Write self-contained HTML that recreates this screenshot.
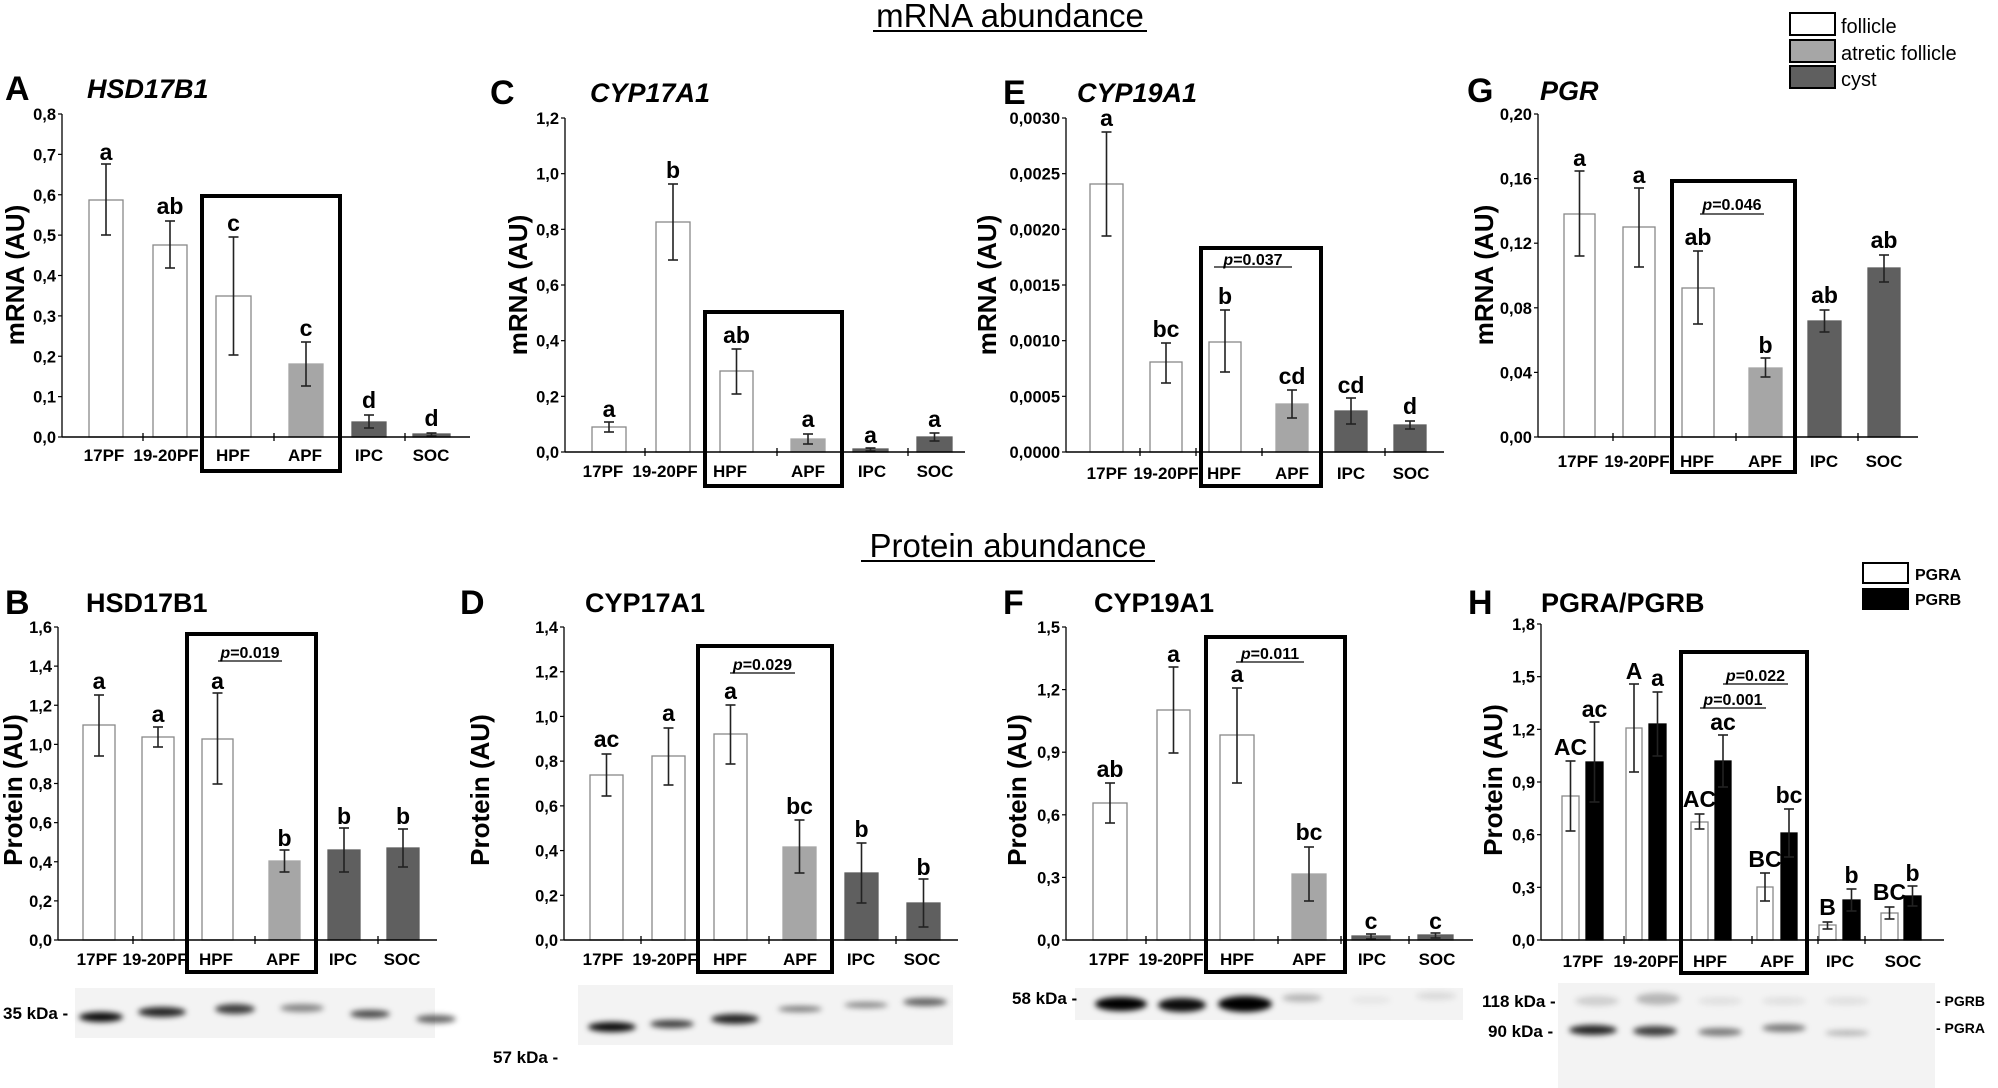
<!DOCTYPE html>
<html><head><meta charset="utf-8">
<style>
html,body{margin:0;padding:0;background:#fff;}
svg{display:block;font-family:"Liberation Sans",Arial,sans-serif;}
</style></head>
<body>
<svg id="s" width="1998" height="1088" viewBox="0 0 1998 1088" xmlns="http://www.w3.org/2000/svg">
<defs>
<filter id="bl" x="-20%" y="-100%" width="140%" height="300%"><feGaussianBlur stdDeviation="3"/></filter>
</defs>
<text x="1010" y="27" font-size="33" text-anchor="middle">mRNA abundance</text>
<line x1="873" y1="31" x2="1147" y2="31" stroke="#000" stroke-width="2"/>
<text x="1008" y="557" font-size="33" text-anchor="middle">Protein abundance</text>
<line x1="861" y1="561" x2="1155" y2="561" stroke="#000" stroke-width="2"/>
<rect x="1790" y="13" width="45" height="22" fill="#fff" stroke="#000" stroke-width="2"/>
<rect x="1790" y="40" width="45" height="22" fill="#a6a6a6" stroke="#000" stroke-width="2"/>
<rect x="1790" y="66" width="45" height="22" fill="#5f5f5f" stroke="#000" stroke-width="2"/>
<text x="1841" y="33" font-size="20">follicle</text>
<text x="1841" y="60" font-size="20">atretic follicle</text>
<text x="1841" y="86" font-size="20">cyst</text>
<rect x="1863" y="563" width="45" height="20" fill="#fff" stroke="#000" stroke-width="2"/>
<rect x="1863" y="589" width="45" height="20" fill="#000" stroke="#000" stroke-width="2"/>
<text x="1915" y="580" font-size="16" font-weight="bold">PGRA</text>
<text x="1915" y="605" font-size="16" font-weight="bold">PGRB</text>
<g id="g"></g>
</svg>
<script>
var g=document.getElementById('g'),NS='http://www.w3.org/2000/svg';
function el(t,a,txt){var e=document.createElementNS(NS,t);for(var k in a)e.setAttribute(k,a[k]);if(txt!==undefined)e.textContent=txt;g.appendChild(e);return e;}
var W='#fff',L='#a6a6a6',D='#5f5f5f',K='#000';
function panel(P){
 var n=P.ticks.length;
 for(var i=0;i<n;i++){var y=P.top+(P.zero-P.top)*i/(n-1);
  el('line',{x1:P.ax-4,y1:y,x2:P.ax,y2:y,stroke:'#000','stroke-width':1.2});
  el('text',{x:P.ax-6,y:y+6,'font-size':16.5,'font-weight':'bold','text-anchor':'end'},P.ticks[i]);}
 el('line',{x1:P.ax,y1:P.top,x2:P.ax,y2:P.zero,stroke:'#000','stroke-width':1.3});
 P.xt.forEach(function(x){el('line',{x1:x,y1:P.zero-4,x2:x,y2:P.zero+4,stroke:'#000','stroke-width':1.3});});
 P.bars.forEach(function(b){
  var fill=b[5];
  el('rect',{x:b[0],y:b[2],width:b[1]-b[0],height:P.zero-b[2],fill:fill,stroke:fill==W?'#888':fill,'stroke-width':1.3});
  var cx=(b[0]+b[1])/2;
  el('line',{x1:cx,y1:b[3],x2:cx,y2:b[4],stroke:'#222','stroke-width':1.6});
  el('line',{x1:cx-5,y1:b[3],x2:cx+5,y2:b[3],stroke:'#222','stroke-width':1.6});
  el('line',{x1:cx-5,y1:b[4],x2:cx+5,y2:b[4],stroke:'#222','stroke-width':1.6});
  el('text',{x:cx,y:b[7]+8,'font-size':23,'font-weight':'bold','text-anchor':'middle'},b[6]);
 });
 el('line',{x1:P.ax,y1:P.zero,x2:P.right,y2:P.zero,stroke:'#000','stroke-width':1.5});
 P.cats.forEach(function(c){el('text',{x:c[0],y:P.ly+7,'font-size':17,'font-weight':'bold','text-anchor':'middle'},c[1]);});
 el('rect',{x:P.box[0],y:P.box[1],width:P.box[2]-P.box[0],height:P.box[3]-P.box[1],fill:'none',stroke:'#000','stroke-width':4});
 (P.p||[]).forEach(function(p){
  el('line',{x1:p[0],y1:p[2],x2:p[1],y2:p[2],stroke:'#333','stroke-width':1.5});
  var t=el('text',{x:(p[0]+p[1])/2,y:p[3]+5,'font-size':16,'font-weight':'bold','text-anchor':'middle'});
  var a=document.createElementNS(NS,'tspan');a.setAttribute('font-style','italic');a.textContent='p';t.appendChild(a);
  t.appendChild(document.createTextNode('='+p[4]));
 });
 el('text',{x:P.L[0],y:P.L[1],'font-size':34,'font-weight':'bold'},P.L[2]);
 el('text',{x:P.T[0],y:P.T[1],'font-size':27,'font-weight':'bold','font-style':P.T[3]?'italic':'normal'},P.T[2]);
 el('text',{x:P.yl[0],y:P.yl[1],'font-size':26,'font-weight':'bold','text-anchor':'middle',transform:'rotate(-90 '+P.yl[0]+' '+P.yl[1]+')'},P.yl[2]);
}
function cats(b){var n=['17PF','19-20PF','HPF','APF','IPC','SOC'];return b.map(function(x,i){return [x,n[i]];});}
panel({ax:62,top:114,zero:437,right:470,ticks:['0,8','0,7','0,6','0,5','0,4','0,3','0,2','0,1','0,0'],xt:[143,274,405],
 bars:[[89,123,200,164,235,W,'a',152],[153,187,245,221,268,W,'ab',206],[216,251,296,237,355,W,'c',223],[289,323,364,342,386,L,'c',328],[352,386,422,415,428,D,'d',400],[413,450,434,433,436,D,'d',418]],
 cats:cats([104,166,233,305,369,431]),ly:454,box:[202,196,340,471],L:[5,100,'A'],T:[87,98,'HSD17B1',1],yl:[24,275,'mRNA (AU)']});
panel({ax:565,top:118,zero:452,right:965,ticks:['1,2','1,0','0,8','0,6','0,4','0,2','0,0'],xt:[645,777,908],
 bars:[[592,626,427,422,432,W,'a',409],[656,690,222,184,260,W,'b',170],[720,753,371,349,394,W,'ab',335],[791,825,439,434,444,L,'a',419],[853,888,449,448,451,D,'a',435],[917,952,437,433,441,D,'a',419]],
 cats:cats([603,665,730,808,872,935]),ly:470,box:[705,312,842,486],L:[490,104,'C'],T:[590,102,'CYP17A1',1],yl:[527,285,'mRNA (AU)']});
panel({ax:1066,top:118,zero:452,right:1444,ticks:['0,0030','0,0025','0,0020','0,0015','0,0010','0,0005','0,0000'],xt:[1140,1196,1262,1385],
 bars:[[1090,1123,184,132,236,W,'a',118],[1150,1182,362,343,383,W,'bc',329],[1209,1241,342,310,372,W,'b',296],[1276,1308,404,390,418,L,'cd',376],[1335,1367,411,398,424,D,'cd',385],[1394,1426,425,421,429,D,'d',406]],
 cats:cats([1107,1166,1224,1292,1351,1411]),ly:472,box:[1201,248,1321,486],p:[[1214,1292,267,260,'0.037']],L:[1003,104,'E'],T:[1077,102,'CYP19A1',1],yl:[996,285,'mRNA (AU)']});
panel({ax:1538,top:114,zero:437,right:1918,ticks:['0,20','0,16','0,12','0,08','0,04','0,00'],xt:[1613,1736,1858],
 bars:[[1564,1595,214,171,256,W,'a',158],[1623,1655,227,188,267,W,'a',175],[1682,1714,288,251,324,W,'ab',237],[1749,1782,368,358,377,L,'b',345],[1808,1841,321,310,332,D,'ab',295],[1868,1900,268,255,282,D,'ab',240]],
 cats:cats([1578,1637,1697,1765,1824,1884]),ly:460,box:[1672,181,1795,472],p:[[1700,1764,214,205,'0.046']],L:[1467,102,'G'],T:[1540,100,'PGR',1],yl:[1493,275,'mRNA (AU)']});
panel({ax:58,top:627,zero:940,right:437,ticks:['1,6','1,4','1,2','1,0','0,8','0,6','0,4','0,2','0,0'],xt:[133,255,378],
 bars:[[83,115,725,695,756,W,'a',681],[142,174,737,727,747,W,'a',714],[202,233,739,693,784,W,'a',681],[269,300,861,850,872,L,'b',838],[328,360,850,828,872,D,'b',816],[387,419,848,829,867,D,'b',816]],
 cats:cats([97,155,216,283,343,402]),ly:958,box:[187,634,316,972],p:[[218,282,661,653,'0.019']],L:[5,614,'B'],T:[86,612,'HSD17B1',0],yl:[22,790,'Protein (AU)']});
panel({ax:564,top:627,zero:940,right:958,ticks:['1,4','1,2','1,0','0,8','0,6','0,4','0,2','0,0'],xt:[641,769,896],
 bars:[[590,623,775,754,796,W,'ac',739],[652,685,756,728,785,W,'a',713],[714,747,734,705,764,W,'a',691],[783,816,847,820,873,L,'bc',806],[845,878,873,843,903,D,'b',829],[907,940,903,879,927,D,'b',867]],
 cats:cats([603,665,730,800,861,922]),ly:958,box:[698,646,832,972],p:[[730,795,673,665,'0.029']],L:[460,614,'D'],T:[585,612,'CYP17A1',0],yl:[489,790,'Protein (AU)']});
panel({ax:1066,top:627,zero:940,right:1473,ticks:['1,5','1,2','0,9','0,6','0,3','0,0'],xt:[1146,1278,1341,1409],
 bars:[[1093,1127,803,783,823,W,'ab',769],[1157,1190,710,667,753,W,'a',654],[1220,1254,735,688,783,W,'a',674],[1292,1326,874,847,901,L,'bc',832],[1352,1390,936,934,939,D,'c',921],[1418,1453,935,933,938,D,'c',921]],
 cats:cats([1109,1171,1237,1309,1372,1437]),ly:958,box:[1206,637,1345,972],p:[[1236,1304,662,654,'0.011']],L:[1003,614,'F'],T:[1094,612,'CYP19A1',0],yl:[1026,790,'Protein (AU)']});
panel({ax:1541,top:624,zero:940,right:1944,ticks:['1,8','1,5','1,2','0,9','0,6','0,3','0,0'],xt:[1624,1752,1818,1865],
 bars:[[1562,1579,796,761,831,W,'AC',747],[1586,1603,762,722,802,K,'ac',709],[1626,1642,728,684,772,W,'A',671],[1649,1666,724,692,756,K,'a',678],[1691,1708,822,814,829,W,'AC',799],[1715,1731,761,735,787,K,'ac',722],[1757,1773,887,873,901,W,'BC',859],[1781,1797,833,809,857,K,'bc',795],[1819,1836,925,922,929,W,'B',907],[1843,1860,900,889,911,K,'b',875],[1881,1898,913,907,919,W,'BC',892],[1904,1921,896,886,906,K,'b',873]],
 cats:cats([1583,1646,1710,1777,1840,1903]),ly:960,box:[1681,652,1807,973],p:[[1723,1788,684,676,'0.022'],[1700,1766,708,700,'0.001']],L:[1468,614,'H'],T:[1541,612,'PGRA/PGRB',0],yl:[1502,780,'Protein (AU)']});
function blot(x,y,w,h,bands){el('rect',{x:x,y:y,width:w,height:h,fill:'#f3f3f3'});
 bands.forEach(function(b){el('ellipse',{cx:b[0],cy:b[1],rx:b[2],ry:b[3],fill:'#000','fill-opacity':b[4],filter:'url(#bl)'});});}
blot(75,988,360,50,[[101,1017,22,5,0.95],[162,1012,24,5,0.85],[235,1009,20,5,0.75],[302,1008,22,4,0.45],[370,1014,20,4,0.7],[436,1019,20,4,0.6]]);
blot(578,985,375,60,[[612,1027,24,5,0.95],[672,1024,22,4,0.75],[735,1019,24,5,0.85],[800,1009,22,3,0.5],[866,1005,22,3,0.45],[925,1002,22,4,0.6]]);
blot(1075,988,388,32,[[1121,1004,26,7,1],[1182,1005,24,7,0.95],[1245,1004,27,8,1],[1302,998,20,4,0.25],[1371,1000,20,4,0.05],[1436,996,20,4,0.1]]);
blot(1558,983,377,105,[[1593,1030,24,5,0.85],[1655,1031,22,5,0.75],[1720,1032,22,4,0.5],[1784,1028,22,4,0.5],[1847,1033,22,3,0.25],[1597,1001,22,5,0.15],[1658,999,22,6,0.25],[1720,1001,22,4,0.08],[1784,1001,22,4,0.08],[1847,1001,22,4,0.08]]);
[[3,1019,'35 kDa -'],[493,1063,'57 kDa -'],[1012,1004,'58 kDa -'],[1482,1007,'118 kDa -'],[1488,1037,'90 kDa -']].forEach(function(t){el('text',{x:t[0],y:t[1],'font-size':17,'font-weight':'bold'},t[2]);});
el('text',{x:1936,y:1006,'font-size':14,'font-weight':'bold'},'- PGRB');
el('text',{x:1936,y:1033,'font-size':14,'font-weight':'bold'},'- PGRA');
</script>
</body></html>
